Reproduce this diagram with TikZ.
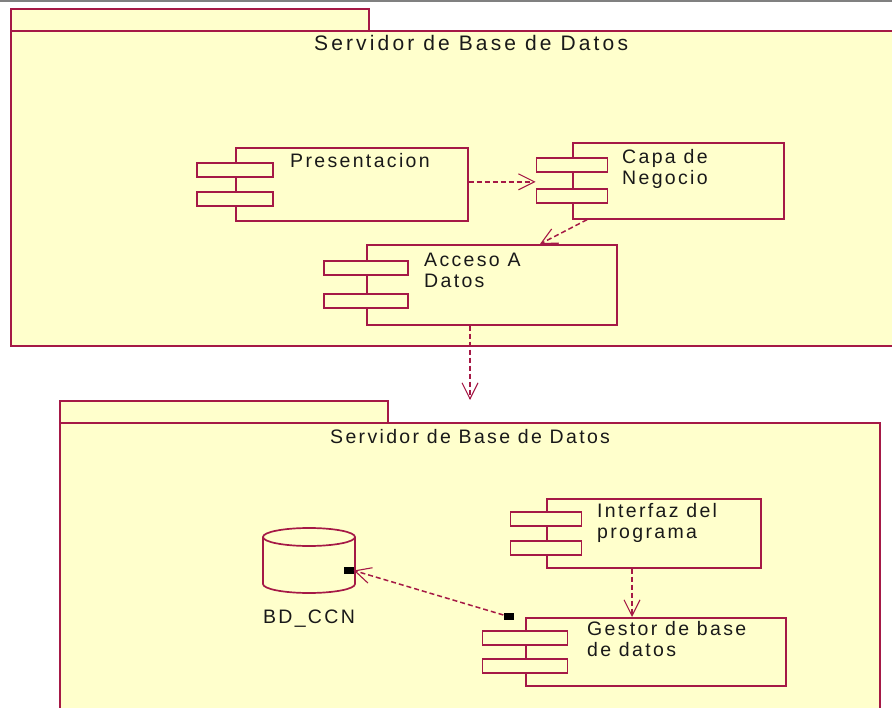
\documentclass[tikz,border=0pt]{standalone}
\usepackage{fontspec}
\setmainfont{Liberation Sans}
\newfontfamily\rosefont{Liberation Sans}[LetterSpace=12]
\newfontfamily\rosetitlefont{Liberation Sans}[LetterSpace=15]
\usetikzlibrary{arrows.meta}
\definecolor{roseline}{RGB}{165,25,70}
\definecolor{rosefill}{RGB}{255,255,204}
\tikzset{
  package/.style={draw=roseline, fill=rosefill, line width=2.2pt, inner sep=0pt, anchor=north west},
  compbody/.style={draw=roseline, fill=rosefill, line width=1.7pt, inner sep=0pt, anchor=north west},
  compport/.style={draw=roseline, fill=rosefill, line width=1.7pt, inner sep=0pt, minimum height=14pt},
  rosetext/.style={font=\rosefont\fontsize{19.5}{21}\selectfont, text=black!90, inner sep=0pt,
    align=left, anchor=north west},
  dep/.style={draw=roseline, line width=1.5pt, dash pattern=on 5pt off 3pt,
    -{Straight Barb[length=16pt,width=16pt,line width=1.1pt]}},
  endmark/.style={fill=black, inner sep=0pt, minimum width=10pt, minimum height=7pt}
}

\begin{document}
\begin{tikzpicture}[x=1pt, y=-1pt]
\clip (0,0) rectangle (892,708);
\fill[white] (0,0) rectangle (892,708);
\draw[gray, line width=1.5pt] (0,1) -- (892,1);

% upper package
\node[package, minimum width=358pt, minimum height=22pt] (srvA-tab) at (10,8) {};
\node[package, minimum width=920pt, minimum height=315pt] (srvA) at (10,30) {};
\node[rosetext, font=\rosetitlefont\fontsize{21}{23}\selectfont, anchor=north] (srvA-title)
  at ([yshift=-5.5pt]srvA.north) {Servidor de Base de Datos};

\node[compbody, minimum width=232pt, minimum height=73pt] (pres) at (235,147) {};
\node[compport, minimum width=76pt] (pres-p1) at ([yshift=14.5pt]pres.west) {};
\node[compport, minimum width=76pt] (pres-p2) at ([yshift=-14.5pt]pres.west) {};
\node[rosetext] (pres-txt) at ([xshift=55pt,yshift=-6pt]pres.north west) {Presentacion};

\node[compbody, minimum width=211pt, minimum height=76pt] (capa) at (572,142) {};
\node[compport, minimum width=71pt] (capa-p1) at ([yshift=15.5pt]capa.west) {};
\node[compport, minimum width=71pt] (capa-p2) at ([yshift=-15.5pt]capa.west) {};
\node[rosetext] (capa-txt) at ([xshift=50pt,yshift=-7pt]capa.north west) {Capa de\\Negocio};

\node[compbody, minimum width=250pt, minimum height=80pt] (acc) at (366,244) {};
\node[compport, minimum width=84pt] (acc-p1) at ([yshift=16.5pt]acc.west) {};
\node[compport, minimum width=84pt] (acc-p2) at ([yshift=-16.5pt]acc.west) {};
\node[rosetext] (acc-txt) at ([xshift=58pt,yshift=-9pt]acc.north west) {Acceso A\\Datos};

% lower package
\node[package, minimum width=328pt, minimum height=22pt] (srvB-tab) at (59,400) {};
\node[package, minimum width=820pt, minimum height=340pt] (srvB) at (59,422) {};
\node[rosetext, anchor=north] (srvB-title) at ([yshift=-7pt]srvB.north) {Servidor de Base de Datos};

\node[compbody, minimum width=214pt, minimum height=69pt] (intf) at (546,498) {};
\node[compport, minimum width=71pt] (intf-p1) at ([yshift=14.5pt]intf.west) {};
\node[compport, minimum width=71pt] (intf-p2) at ([yshift=-14.5pt]intf.west) {};
\node[rosetext] (intf-txt) at ([xshift=51pt,yshift=-5pt]intf.north west) {Interfaz del\\programa};

\node[compbody, minimum width=260pt, minimum height=68pt] (gest) at (525,617) {};
\node[compport, minimum width=85pt] (gest-p1) at ([yshift=14pt]gest.west) {};
\node[compport, minimum width=85pt] (gest-p2) at ([yshift=-14pt]gest.west) {};
\node[rosetext] (gest-txt) at ([xshift=62pt,yshift=-4pt]gest.north west) {Gestor de base\\de datos};

\path[draw=roseline, line width=1.7pt, fill=rosefill] (263,537) -- (263,584)
  arc[start angle=180, end angle=0, x radius=46, y radius=9] -- (355,537);
\draw[roseline, line width=1.7pt] (309,537) ellipse [x radius=46, y radius=9];
\node[rosetext, anchor=north] (bd-txt) at (309,610) {BD\_CCN};

\node[endmark] (bd-end) at (348.5,570.5) {};
\node[endmark] (gest-end) at (508.5,616.5) {};

% dependencies
\coordinate (acc-out) at ([xshift=104pt]acc.south west);
\coordinate (intf-out) at ([xshift=86pt]intf.south west);
\draw[dep] ([yshift=2.5pt]pres.east) -- ([yshift=2.5pt]pres.east -| capa-p1.west);
\draw[dep] ([xshift=15pt]capa.south west) -- ([xshift=174pt]acc.north west);
\draw[dep] (acc-out) -- (acc-out |- srvB-tab.north);
\draw[dep] (intf-out) -- (intf-out |- gest.north);
\draw[dep] (gest-end) -- (bd-end.east);
\end{tikzpicture}
\end{document}
